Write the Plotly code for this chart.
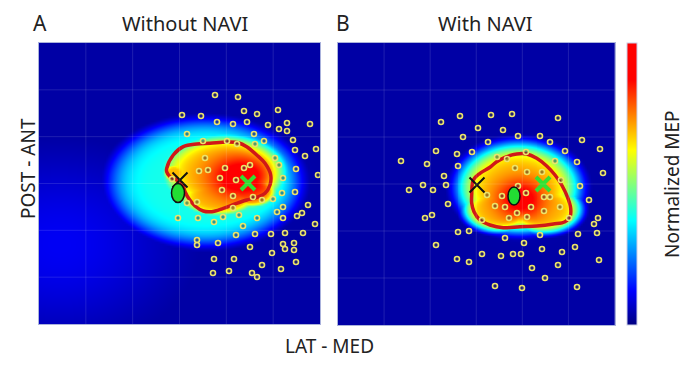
import numpy as np
import plotly.graph_objects as go

# ---------------- Panel A (Without NAVI) : stimulation sites ----------------
a_site_x = [176, 199, 143, 162, 205, 218, 239, 178, 194, 208, 229, 248, 271, 240, 248,
            148, 215, 225, 254, 164, 188, 198, 216, 256, 277, 266, 236, 166, 240, 211,
            257, 160, 169, 186, 205, 279, 181, 197, 244, 133, 183, 214, 194, 243, 256,
            148, 158, 223, 234, 194, 244, 269, 238, 263, 258, 244, 139, 159, 175, 184,
            200, 218, 276, 204, 197, 216, 232, 246, 264, 158, 158, 179, 211, 244, 255,
            255, 246, 233, 175, 195, 223, 257, 242, 174, 190, 213, 218]
a_site_y = [229, 227, 209, 208, 213, 210, 214, 202, 200, 202, 199, 201, 200, 195, 193,
            190, 190, 183, 184, 183, 183, 180, 180, 174, 175, 168, 166, 166, 159, 159,
            155, 153, 154, 156, 156, 149, 146, 144, 146, 145, 134, 127, 128, 131, 132,
            121, 122, 124, 125, 116, 117, 119, 112, 111, 108, 106, 106, 106, 102, 107,
            109, 106, 100, 98, 89, 90, 90, 91, 91, 84, 79, 81, 77, 80, 81,
            74, 75, 71, 65, 65, 59, 62, 55, 51, 53, 51, 47]

# threshold outline of the MEP map (panel A)
a_outline_x = [127.7, 134.3, 144.3, 157.7, 171, 187.7, 199.3, 207.7, 217.7, 226, 231.7, 231,
               226, 217.7, 207.7, 196, 184.3, 172.7, 164.3, 156, 150.3, 146, 143.7, 137.7,
               131, 127.7]
a_outline_y = [155.7, 169, 177.3, 180, 180.7, 182, 181.3, 177.3, 169, 160.7, 149, 139,
               130.7, 126.7, 124, 120, 115.7, 112.3, 113, 118, 124.7, 132.3, 139, 144,
               147.3, 152.3]

a_cog_x, a_cog_y = [141], [144]          # black cross
a_hot_x, a_hot_y = [209], [141]          # green cross
a_ell_x, a_ell_y, a_ell_rx, a_ell_ry = 139, 131, 6.5, 9.5   # green ellipse

# MEP map components (centre, radii, height, sharpness)
a_comp_x = [183, 178, 135, 212, 165, 20]
a_comp_y = [152, 128, 151, 133, 142, 80]
a_comp_rx = [65.6, 41, 11, 26, 95, 130]
a_comp_ry = [39.6, 20.5, 9.6, 16.4, 62, 100]
a_comp_h = [0.68, 0.68, 0.68, 0.68, 0.39, 0.11]
a_comp_p = [6, 6, 6, 6, 8, 2]
a_peak = dict(x=202, y=147, rx=33, ry=22, h=0.27)

# ---------------- Panel B (With NAVI) : stimulation sites ----------------
b_site_x = [103, 122, 153, 174, 220, 140, 165, 125, 180, 202, 212, 244, 150, 98, 119,
            134, 188, 227, 262, 159, 63, 89, 120, 169, 217, 239, 177, 189, 106, 265,
            204, 85, 71, 95, 108, 223, 242, 180, 149, 164, 188, 206, 212, 251, 110,
            157, 167, 193, 222, 206, 179, 94, 87, 171, 189, 231, 260, 256, 144, 120,
            131, 167, 202, 240, 259, 186, 204, 224, 237, 98, 144, 163, 175, 183, 220,
            119, 131, 261, 194, 207, 157, 184, 239]
b_site_y = [203, 209, 210, 211, 207, 197, 195, 188, 189, 189, 183, 185, 183, 174, 171,
            173, 173, 174, 176, 168, 164, 161, 159, 166, 164, 163, 157, 153, 149, 152,
            153, 140, 135, 135, 140, 145, 139, 139, 130, 129, 132, 128, 128, 125, 121,
            119, 118, 118, 118, 114, 112, 110, 107, 107, 108, 107, 107, 101, 105, 93,
            94, 87, 90, 91, 92, 82, 76, 73, 78, 80, 71, 69, 71, 71, 60,
            66, 63, 65, 57, 47, 39, 37, 38]

b_outline_x = [133.7, 135.3, 142, 152, 158.7, 167, 178.7, 188.7, 198.7, 208.7, 217, 223.7,
               229.3, 232.7, 232, 227, 215.3, 198.7, 182, 165.3, 152, 142, 136, 133.7]
b_outline_y = [130, 145, 151.7, 157.7, 163.3, 167.7, 171, 171, 166.7, 159, 150, 140,
               128.3, 116.7, 108.3, 103.3, 101, 99, 98.3, 97.3, 100, 105, 113.3, 121.7]

b_cog_x, b_cog_y = [139], [140]
b_hot_x, b_hot_y = [205], [141]
b_ell_x, b_ell_y, b_ell_rx, b_ell_ry = 176, 129, 6, 9

b_comp_x = [180, 206, 160]
b_comp_y = [138, 116, 116]
b_comp_rx = [61.5, 37.6, 35.5]
b_comp_ry = [45, 24.6, 23.2]
b_comp_h = [0.68, 0.68, 0.68]
b_comp_p = [6, 6, 6]
b_peak = dict(x=182, y=126, rx=25, ry=21, h=0.24)

A_RANGE = (281, 281)
B_RANGE = (276.5, 282)
BASE = 0.035

JET = [[0.0, 'rgb(0,0,128)'], [0.12, 'rgb(0,0,255)'], [0.37, 'rgb(0,255,255)'],
       [0.62, 'rgb(255,255,0)'], [0.87, 'rgb(255,0,0)'], [1.0, 'rgb(255,0,0)']]

# page body adds an 8 px margin: the figure is laid out in page pixels minus that offset
OFF = 8
W, H = 689 - OFF, 365 - OFF


def fx(px):
    return (px - OFF) / W


def fy(py):
    return 1 - (py - OFF) / H


def mep_map(rng, cx, cy, rx, ry, h, p, peak):
    gx = np.linspace(0, rng[0], 141)
    gy = np.linspace(0, rng[1], 141)
    X, Y = np.meshgrid(gx, gy)
    z = np.full(X.shape, BASE)
    for i in range(len(cx)):
        q = ((X - cx[i]) / rx[i]) ** 2 + ((Y - cy[i]) / ry[i]) ** 2
        z = np.maximum(z, h[i] * np.exp(-q ** (p[i] / 2.0)))
    q = ((X - peak['x']) / peak['rx']) ** 2 + ((Y - peak['y']) / peak['ry']) ** 2
    z = z + peak['h'] * np.exp(-q)
    return gx, gy, np.clip(z, 0, 1)


fig = go.Figure()

panels = [
    dict(xa='x', ya='y', rng=A_RANGE, sx=a_site_x, sy=a_site_y, ox=a_outline_x, oy=a_outline_y,
         cog=(a_cog_x, a_cog_y), hot=(a_hot_x, a_hot_y),
         comp=(a_comp_x, a_comp_y, a_comp_rx, a_comp_ry, a_comp_h, a_comp_p), peak=a_peak,
         ell=(a_ell_x, a_ell_y, a_ell_rx, a_ell_ry), scale=False),
    dict(xa='x2', ya='y2', rng=B_RANGE, sx=b_site_x, sy=b_site_y, ox=b_outline_x, oy=b_outline_y,
         cog=(b_cog_x, b_cog_y), hot=(b_hot_x, b_hot_y),
         comp=(b_comp_x, b_comp_y, b_comp_rx, b_comp_ry, b_comp_h, b_comp_p), peak=b_peak,
         ell=(b_ell_x, b_ell_y, b_ell_rx, b_ell_ry), scale=True),
]

shapes = []
for P in panels:
    gx, gy, z = mep_map(P['rng'], *P['comp'], P['peak'])
    hm = dict(x=gx, y=gy, z=z, colorscale=JET, zmin=0, zmax=1, zsmooth='best',
              xaxis=P['xa'], yaxis=P['ya'], hoverinfo='skip', showscale=P['scale'])
    if P['scale']:
        hm['colorbar'] = dict(x=fx(627), xanchor='left', xpad=0, ypad=0,
                              y=fy(43), yanchor='top', len=282, lenmode='pixels',
                              thickness=10, thicknessmode='pixels', outlinewidth=1,
                              outlinecolor='#c9cde6', showticklabels=False, ticks='')
    fig.add_trace(go.Heatmap(**hm))
    # faint grid on top of the map
    for k in range(1, 6):
        xv = P['rng'][0] * k / 6
        yv = P['rng'][1] * k / 6
        shapes.append(dict(type='line', xref=P['xa'], yref=P['ya'], x0=xv, x1=xv, y0=0,
                           y1=P['rng'][1], line=dict(color='rgba(255,255,255,0.12)', width=1),
                           layer='above'))
        shapes.append(dict(type='line', xref=P['xa'], yref=P['ya'], y0=yv, y1=yv, x0=0,
                           x1=P['rng'][0], line=dict(color='rgba(255,255,255,0.12)', width=1),
                           layer='above'))
    ox = list(P['ox']) + [P['ox'][0]]
    oy = list(P['oy']) + [P['oy'][0]]
    fig.add_trace(go.Scatter(x=ox, y=oy, mode='lines', line=dict(color='#d01818', width=3.5, shape='spline'),
                             xaxis=P['xa'], yaxis=P['ya'], hoverinfo='skip', showlegend=False))
    fig.add_trace(go.Scatter(x=P['sx'], y=P['sy'], mode='markers',
                             marker=dict(symbol='circle', size=5, color='rgba(60,60,60,0.5)',
                                         line=dict(color='#ece46a', width=1.6)),
                             xaxis=P['xa'], yaxis=P['ya'], hoverinfo='skip', showlegend=False))
    fig.add_trace(go.Scatter(x=P['hot'][0], y=P['hot'][1], mode='markers',
                             marker=dict(symbol='x-thin', size=14, line=dict(color='#33e033', width=4)),
                             xaxis=P['xa'], yaxis=P['ya'], hoverinfo='skip', showlegend=False))
    ex, ey, erx, ery = P['ell']
    shapes.append(dict(type='circle', xref=P['xa'], yref=P['ya'], x0=ex - erx, x1=ex + erx,
                       y0=ey - ery, y1=ey + ery, fillcolor='#22dd33',
                       line=dict(color='#111111', width=1.5), layer='above'))
    fig.add_trace(go.Scatter(x=P['cog'][0], y=P['cog'][1], mode='markers',
                             marker=dict(symbol='x-thin', size=15, line=dict(color='#111111', width=2)),
                             xaxis=P['xa'], yaxis=P['ya'], hoverinfo='skip', showlegend=False))

ax_common = dict(showgrid=False, zeroline=False, showticklabels=False, ticks='',
                 showline=True, mirror=True, linecolor='#aab2dc', linewidth=1)

fig.update_layout(
    width=W, height=H, margin=dict(l=0, r=0, t=0, b=0),
    paper_bgcolor='white', plot_bgcolor='#000090', showlegend=False,
    font=dict(family='Noto Sans', color='#222222'),
    xaxis=dict(domain=[fx(39), fx(320)], range=[0, A_RANGE[0]], **ax_common),
    yaxis=dict(domain=[fy(324), fy(43)], range=[0, A_RANGE[1]], **ax_common),
    xaxis2=dict(domain=[fx(338), fx(614.5)], range=[0, B_RANGE[0]], anchor='y2', **ax_common),
    yaxis2=dict(domain=[fy(325), fy(43)], range=[0, B_RANGE[1]], anchor='x2', **ax_common),
    shapes=shapes,
)


def label(text, px, py, size, angle=0):
    fig.add_annotation(text=text, x=fx(px), y=fy(py), xref='paper', yref='paper',
                       xanchor='center', yanchor='middle', showarrow=False, textangle=angle,
                       borderpad=0, font=dict(size=size, family='Noto Sans', color='#222222'))


label('A', 40, 23, 21)
label('B', 343, 23, 21)
label('Without NAVI', 185, 24, 20)
label('With NAVI', 485, 24, 20)
label('POST - ANT', 28, 169, 19, -90)
label('LAT - MED', 329, 346, 19)
label('Normalized MEP', 672, 184, 19, -90)

fig.write_html('out.html')
